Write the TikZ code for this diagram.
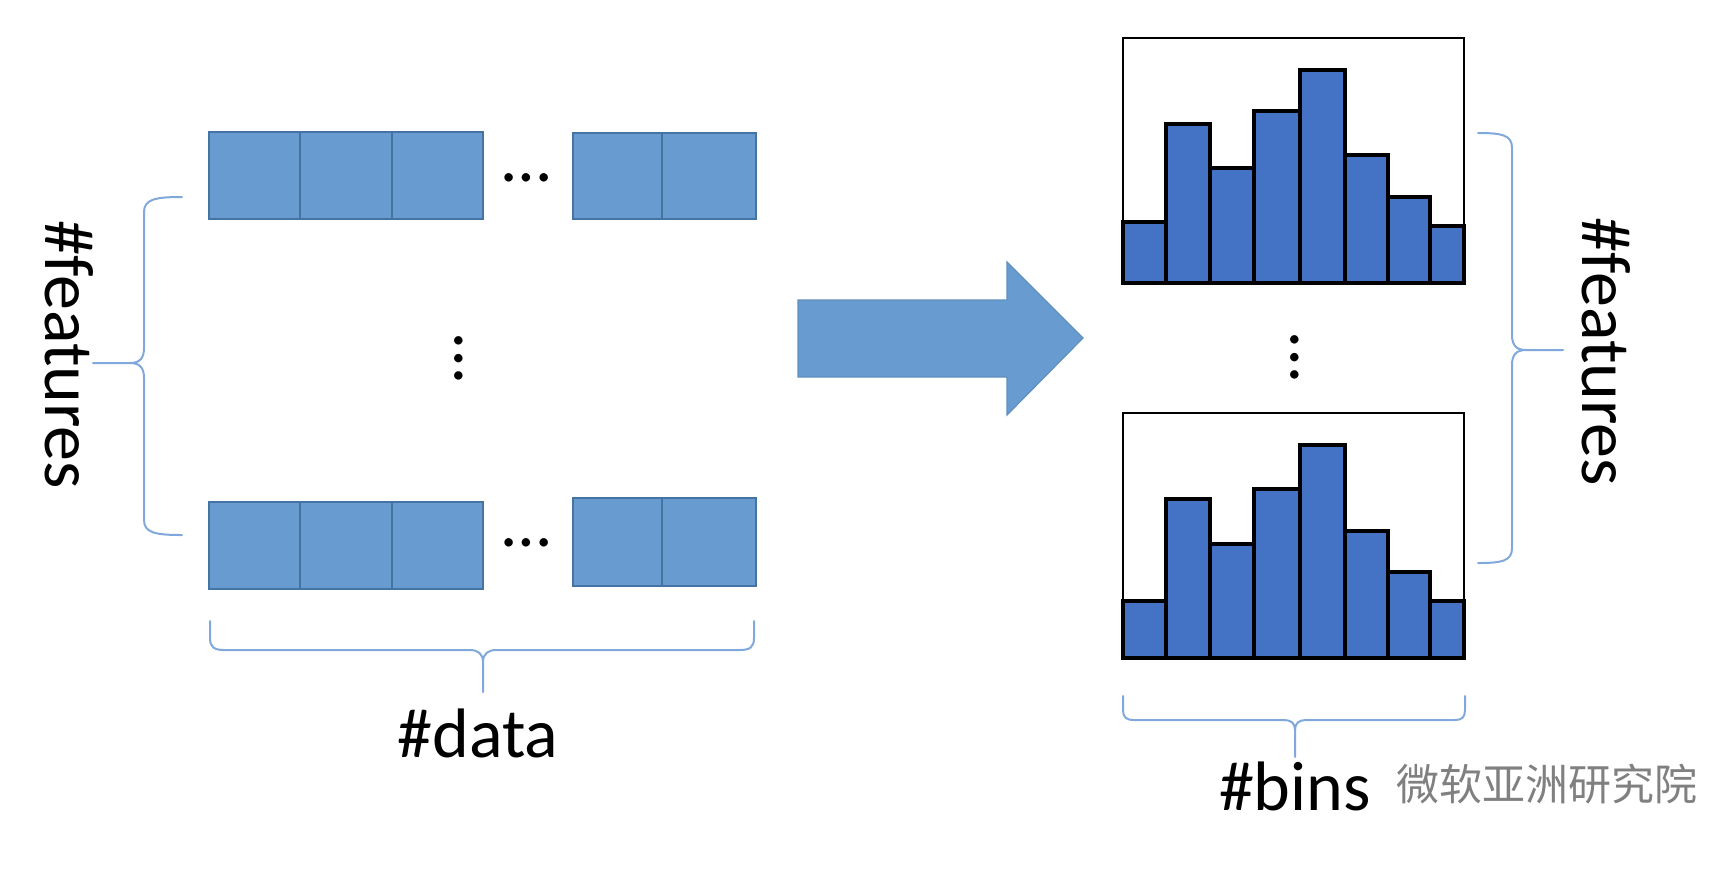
\documentclass[tikz,border=0pt]{standalone}
\usepackage{fontspec}
\setmainfont{Carlito}
\newfontfamily\cjk{Noto Sans CJK SC}

\definecolor{cellblue}{RGB}{104,155,208}
\definecolor{celledge}{RGB}{70,116,162}
\definecolor{barblue}{RGB}{68,114,196}
\definecolor{braceblue}{RGB}{128,168,220}

\tikzset{
  cell/.style={fill=cellblue,draw=celledge,line width=0.8pt},
  bar/.style={fill=barblue,draw=black,line width=1.6pt},
  histbox/.style={draw=black,line width=1pt,fill=white},
  brace/.style={draw=braceblue,line width=1pt,line join=round,line cap=round},
  lbl/.style={font=\fontsize{35}{42}\selectfont,inner sep=0pt},
}

\begin{document}
\begin{tikzpicture}[x=0.5pt,y=-0.5pt]
\useasboundingbox (0,0) rectangle (1716,874);

% data rows, top
\draw[cell] (209,132) rectangle (300,219);
\draw[cell] (300,132) rectangle (392,219);
\draw[cell] (392,132) rectangle (483,219);
\draw[cell] (573,133) rectangle (662,219);
\draw[cell] (662,133) rectangle (756,219);
\node[lbl] (tdots) at (527,178) {…};

% data rows, bottom
\draw[cell] (209,502) rectangle (300,589);
\draw[cell] (300,502) rectangle (392,589);
\draw[cell] (392,502) rectangle (483,589);
\draw[cell] (573,498) rectangle (662,586);
\draw[cell] (662,498) rectangle (756,586);
\node[lbl] (bdots) at (527,543) {…};

\node[lbl,rotate=90] (ldots) at (459,358) {…};

% left brace + label
\draw[brace] (182,197) .. controls (156,197) and (144,199) .. (144,212) -- (144,348)
  .. controls (144,358) and (140,363) .. (130,363) -- (93,363);
\draw[brace] (130,363) .. controls (140,363) and (144,368) .. (144,378) -- (144,520)
  .. controls (144,533) and (156,535) .. (182,535);
\node[lbl,rotate=-90,anchor=base] (lfeat) at (45,355) {\#features};

% bottom brace + label
\draw[brace] (210,621) -- (210,638) .. controls (210,647) and (214,650) .. (224,650) -- (470,650)
  .. controls (478,650) and (483,654) .. (483,662) -- (483,692);
\draw[brace] (483,662) .. controls (483,654) and (488,650) .. (496,650) -- (740,650)
  .. controls (750,650) and (754,647) .. (754,638) -- (754,621);
\node[lbl,anchor=base] (data) at (478,757) {\#data};

% big arrow
\draw[fill=cellblue,draw=cellblue!92!black,line width=0.6pt] (798,300) -- (1007,300) -- (1007,262)
  -- (1083,338) -- (1007,415) -- (1007,377) -- (798,377) -- cycle;

% histogram, top
\draw[histbox] (1123,38) rectangle (1464,283);
\draw[bar] (1123,283) rectangle (1166,222);
\draw[bar] (1166,283) rectangle (1210,124);
\draw[bar] (1210,283) rectangle (1254,168);
\draw[bar] (1254,283) rectangle (1300,111);
\draw[bar] (1300,283) rectangle (1345,70);
\draw[bar] (1345,283) rectangle (1388,155);
\draw[bar] (1388,283) rectangle (1430,197);
\draw[bar] (1430,283) rectangle (1464,226);

\node[lbl,rotate=90] (rdots) at (1295,357) {…};

% histogram, bottom
\draw[histbox] (1123,413) rectangle (1464,658);
\draw[bar] (1123,658) rectangle (1166,601);
\draw[bar] (1166,658) rectangle (1210,499);
\draw[bar] (1210,658) rectangle (1254,544);
\draw[bar] (1254,658) rectangle (1300,489);
\draw[bar] (1300,658) rectangle (1345,445);
\draw[bar] (1345,658) rectangle (1388,531);
\draw[bar] (1388,658) rectangle (1430,572);
\draw[bar] (1430,658) rectangle (1464,601);

% right brace + label
\draw[brace] (1478,133) .. controls (1502,133) and (1512,135) .. (1512,148) -- (1512,335)
  .. controls (1512,345) and (1516,350) .. (1526,350) -- (1563,350);
\draw[brace] (1526,350) .. controls (1516,350) and (1512,355) .. (1512,365) -- (1512,548)
  .. controls (1512,561) and (1502,563) .. (1478,563);
\node[lbl,rotate=-90,anchor=base] (rfeat) at (1582,352) {\#features};

% bins brace + label
\draw[brace] (1123,696) -- (1123,710) .. controls (1123,717) and (1126,720) .. (1134,720) -- (1284,720)
  .. controls (1291,720) and (1295,723) .. (1295,730) -- (1295,757);
\draw[brace] (1295,730) .. controls (1295,723) and (1299,720) .. (1306,720) -- (1455,720)
  .. controls (1462,720) and (1465,717) .. (1465,710) -- (1465,696);
\node[lbl,anchor=base] (bins) at (1295,810) {\#bins};
\node[font=\cjk\fontsize{21.5}{26}\selectfont,text=gray,anchor=base west,inner sep=0pt] (mark) at (1396,800) {微软亚洲研究院};

\end{tikzpicture}
\end{document}
